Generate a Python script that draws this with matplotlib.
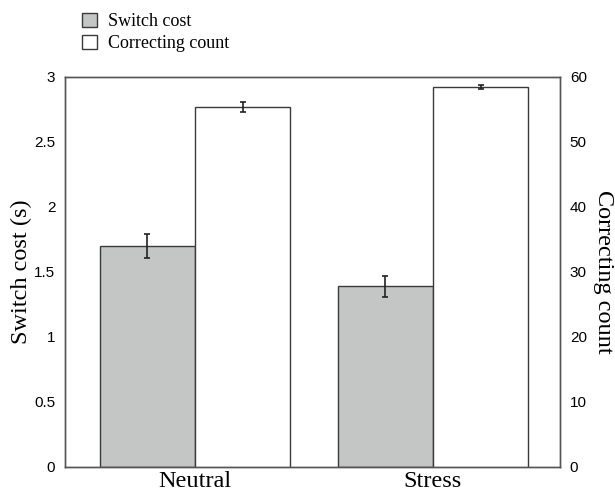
import matplotlib.pyplot as plt
import numpy as np
from matplotlib.patches import Patch

conditions = ['Neutral', 'Stress']
switch_cost = [1.70, 1.39]
switch_err = [0.09, 0.08]
correcting = [55.4, 58.5]
correcting_err = [0.75, 0.3]

x = np.arange(len(conditions))
width = 0.40

fig = plt.figure(figsize=(6.15, 4.96), dpi=100)
ax1 = fig.add_axes([0.1057, 0.0585, 0.805, 0.7863])
ax2 = ax1.twinx()

edge = '#3a3a3a'
ax1.bar(x - width / 2, switch_cost, width, color='#c4c6c5', edgecolor=edge, linewidth=1.0)
ax1.errorbar(x - width / 2, switch_cost, yerr=switch_err, fmt='none', ecolor='#222222',
             elinewidth=1.2, capsize=2.5, capthick=1.2)
ax2.bar(x + width / 2, correcting, width, color='white', edgecolor=edge, linewidth=1.0)
ax2.errorbar(x + width / 2, correcting, yerr=correcting_err, fmt='none', ecolor='#222222',
             elinewidth=1.2, capsize=2.5, capthick=1.2)

ax1.set_xlim(-0.546, 1.534)
ax1.set_ylim(0, 3)
ax2.set_ylim(0, 60)
ax1.set_yticks(np.arange(0, 3.01, 0.5))
ax1.set_yticklabels(['0', '0.5', '1', '1.5', '2', '2.5', '3'])
ax2.set_yticks(np.arange(0, 61, 10))

for ax in (ax1, ax2):
    ax.tick_params(length=0, labelsize=11, pad=7)
    for lbl in ax.get_yticklabels():
        lbl.set_family('Liberation Sans')
    for sp in ax.spines.values():
        sp.set_color('#555555')
        sp.set_linewidth(1.0)
ax1.set_xticks(x)
ax1.set_xticklabels(conditions, family='Liberation Serif', fontsize=17.5)
ax1.tick_params(axis='x', pad=3)

ax1.set_ylabel('Switch cost (s)', family='Liberation Serif', fontsize=17.5)
ax1.yaxis.set_label_coords(-0.066, 0.5)
ax2.set_ylabel('Correcting count', family='Liberation Serif', fontsize=17.5,
               rotation=270, va='bottom')
ax2.yaxis.set_label_coords(1.066, 0.5)

handles = [Patch(facecolor='#c4c6c5', edgecolor=edge, label='Switch cost'),
           Patch(facecolor='white', edgecolor=edge, label='Correcting count')]
fig.legend(handles=handles, loc='upper left', bbox_to_anchor=(0.113, 1.0), frameon=False,
           prop={'family': 'Liberation Serif', 'size': 13}, handlelength=0.85,
           handleheight=0.85, handletextpad=0.6, labelspacing=0.25, borderpad=0.2)

fig.savefig('out.png', dpi=100)
